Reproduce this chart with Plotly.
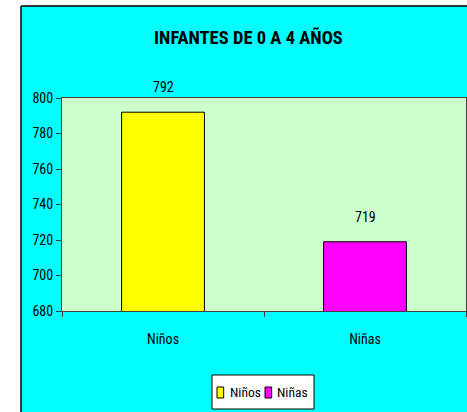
import plotly.graph_objects as go

categories = ["Niños", "Niñas"]
values = [792, 719]
colors = ["#FFFF00", "#FF00FF"]
y_ticks = [680, 700, 720, 740, 760, 780, 800]
title_text = "INFANTES DE 0 A 4 AÑOS"

FONT = "Roboto Condensed, Liberation Sans Narrow, Arial Narrow, Roboto, Liberation Sans, Arial, sans-serif"

fig = go.Figure()
for cat, val, col in zip(categories, values, colors):
    fig.add_trace(go.Bar(
        x=[cat], y=[val], name=cat,
        marker=dict(color=col, line=dict(color="black", width=1)),
        width=0.41, showlegend=False, hoverinfo="x+y",
    ))

annotations = []
# data labels
for cat, val in zip(categories, values):
    annotations.append(dict(x=cat, y=val, xref="x", yref="y", text=str(val),
                            showarrow=False, yanchor="bottom", yshift=15,
                            font=dict(size=14, family=FONT, color="black")))

shapes = [
    # white strip left / top and black frame of the chart area
    dict(type="rect", xref="paper", yref="paper", x0=-0.2, x1=-0.1015, y0=-0.6, y1=1.6,
         fillcolor="white", line=dict(width=0), layer="above"),
    dict(type="rect", xref="paper", yref="paper", x0=-0.2, x1=1.1, y0=1.432, y1=1.6,
         fillcolor="white", line=dict(width=0), layer="above"),
    dict(type="line", xref="paper", yref="paper", x0=-0.1015, x1=-0.1015, y0=-0.6, y1=1.432,
         line=dict(color="black", width=1.5), layer="above"),
    dict(type="line", xref="paper", yref="paper", x0=-0.1015, x1=1.1, y0=1.432, y1=1.432,
         line=dict(color="black", width=1.5), layer="above"),
    # legend box
    dict(type="rect", xref="paper", yref="paper", x0=0.3713, x1=0.6238, y0=-0.4601, y1=-0.3005,
         fillcolor="white", line=dict(color="black", width=1), layer="above"),
]
sym_x = [0.3837, 0.5025]
txt_x = [0.4109, 0.5272]
for cat, col, sx, tx in zip(categories, colors, sym_x, txt_x):
    shapes.append(dict(type="rect", xref="paper", yref="paper", x0=sx, x1=sx + 0.0165,
                       y0=-0.4085, y1=-0.3568, fillcolor=col,
                       line=dict(color="black", width=1), layer="above"))
    annotations.append(dict(x=tx, y=-0.382, xref="paper", yref="paper", text=cat,
                            showarrow=False, xanchor="left", yanchor="middle",
                            font=dict(size=13.5, family=FONT, color="black")))

fig.update_layout(
    width=467, height=412,
    margin=dict(l=62, r=1, t=98, b=101),
    paper_bgcolor="#00FFFF",
    plot_bgcolor="#CCFFCC",
    barmode="overlay",
    font=dict(family=FONT, size=14, color="black"),
    title=dict(text="<b>" + title_text + "</b>", x=0.532, xanchor="center",
               y=0.91, yanchor="middle", font=dict(size=18.5, family=FONT, color="black")),
    showlegend=False,
    xaxis=dict(showline=True, linecolor="#404040", linewidth=1, mirror=True,
               ticks="outside", tickson="boundaries", ticklen=5, tickcolor="#404040",
               ticklabelstandoff=15,
               showgrid=False, tickfont=dict(size=14, family=FONT)),
    yaxis=dict(range=[680, 800], tickvals=y_ticks, showline=True, linecolor="#404040",
               linewidth=1, mirror=True, ticks="outside", ticklen=5, tickcolor="#404040",
               showgrid=False, zeroline=False, tickfont=dict(size=14, family=FONT)),
    shapes=shapes,
    annotations=annotations,
)

fig.write_html("out.html", config={"displayModeBar": False},
               post_script="document.body.style.margin='0';")
